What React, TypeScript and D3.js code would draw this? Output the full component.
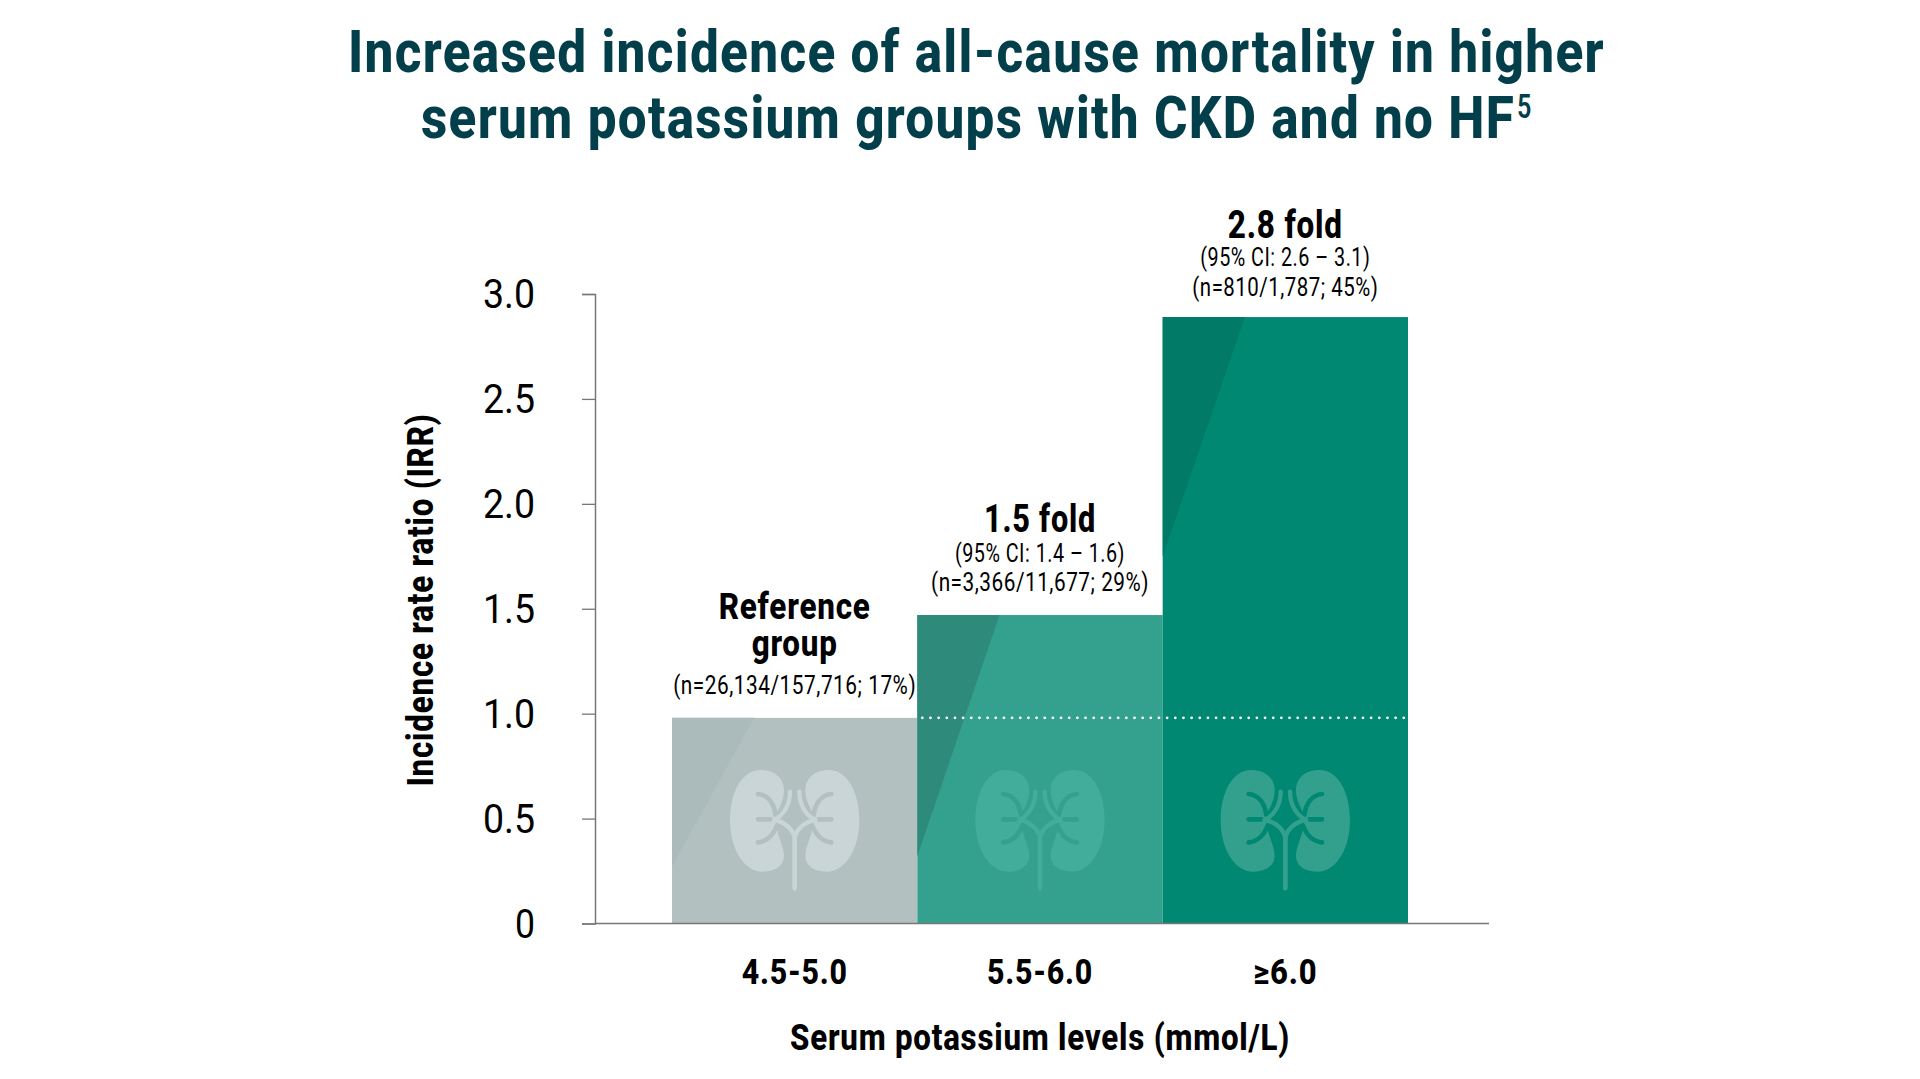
import React, { useEffect, useRef } from "react";
import * as d3 from "d3";

const categories = ["4.5-5.0", "5.5-6.0", "≥6.0"];
const irrValues = [0.98, 1.47, 2.89];
const yTicks = [0, 0.5, 1, 1.5, 2, 2.5, 3];
const barColors = ["#b2c0c0", "#34a08e", "#008872"];
const shadeColors = ["#abbaba", "#2e8b7b", "#017a67"];
const kidneyColors = ["#c9d5d6", "#42ad9b", "#33a08e"];
// how far the darker wedge runs down each bar, in IRR units
const shadeDrop = [0.71, 1.15, 1.14];
const referenceValue = 0.98;

const SANS = "Roboto, sans-serif";
const INK = "#000";
const TITLE_INK = "#023f4a";

const App: React.FC = () => {
  const svgRef = useRef<SVGSVGElement>(null);

  useEffect(() => {
    if (!svgRef.current) return;
    const svg = d3.select(svgRef.current);
    svg.selectAll("*").remove();

    const x = d3.scaleBand<string>().domain(categories).range([672, 1408]);
    const y = d3.scaleLinear().domain([0, 3]).range([923.5, 294]);

    // Roboto Condensed isn't available, so squeeze Roboto to the measured width
    const label = (
      s: string,
      px: number,
      py: number,
      size: number,
      weight: number,
      width: number,
      parent: any = svg,
      fill = INK,
      anchor = "middle"
    ) =>
      parent
        .append("text")
        .attr("x", px)
        .attr("y", py)
        .attr("text-anchor", anchor)
        .attr("font-family", SANS)
        .attr("font-size", size)
        .attr("font-weight", weight)
        .attr("letter-spacing", size * 0.025)
        .attr("fill", fill)
        .attr("textLength", width)
        .attr("lengthAdjust", "spacingAndGlyphs")
        .text(s);

    // title
    label("Increased incidence of all-cause mortality in higher", 976.5, 71.5, 60, 800, 1257, svg, TITLE_INK);
    label("serum potassium groups with CKD and no HF", 421, 138, 60, 800, 1094, svg, TITLE_INK, "start");
    label("5", 1517, 118, 33, 600, 15, svg, TITLE_INK, "start");

    // bars
    const bars = svg.selectAll(".bar")
      .data(categories)
      .enter().append("g")
      .attr("class", "bar");

    bars.append("rect")
      .attr("x", d => x(d)!)
      .attr("y", (_, i) => y(irrValues[i]))
      .attr("width", x.bandwidth())
      .attr("height", (_, i) => y(0) - y(irrValues[i]))
      .attr("fill", (_, i) => barColors[i]);

    bars.append("path")
      .attr("d", (d, i) => {
        const left = x(d)!;
        const top = y(irrValues[i]);
        return `M${left},${top}H${left + x.bandwidth() * 0.335}L${left},${y(irrValues[i] - shadeDrop[i])}Z`;
      })
      .attr("fill", (_, i) => shadeColors[i]);

    // kidney icons
    const icon = bars.append("g")
      .attr("transform", d => `translate(${x(d)! + x.bandwidth() / 2},750) scale(0.3333)`);

    [1, -1].forEach(side => {
      const half = icon.append("g").attr("transform", `scale(${side},1)`);
      half.append("path")
        .attr("d", "M-102,60C-160,60-194,130-194,210C-194,300-150,365-97,365C-50,365-32,340-32,318C-32,290-50,260-52,240L-57,195C-45,170-32,150-32,120C-32,85-60,60-102,60Z")
        .attr("fill", (_, i) => kidneyColors[i]);
      half.append("path")
        .attr("d", "M-110,132C-80,135-62,160-57,195M-110,208L-72,208M-110,277C-80,275-62,250-52,225")
        .attr("fill", "none")
        .attr("stroke", (_, i) => barColors[i])
        .attr("stroke-width", 14)
        .attr("stroke-linecap", "round");
      half.append("path")
        .attr("d", "M0,415L0,270C0,240-30,215-62,210M-14,125C-14,160-30,195-62,210")
        .attr("fill", "none")
        .attr("stroke", (_, i) => kidneyColors[i])
        .attr("stroke-width", 13)
        .attr("stroke-linecap", "round");
    });

    // dotted reference line across the two higher groups
    svg.append("line")
      .attr("x1", x(categories[1])! + 5)
      .attr("x2", x(categories[2])! + x.bandwidth() - 3)
      .attr("y1", y(referenceValue))
      .attr("y2", y(referenceValue))
      .attr("stroke", "#fff")
      .attr("stroke-width", 2.8)
      .attr("stroke-linecap", "round")
      .attr("stroke-dasharray", "0 8.16");

    // axes
    const yAxis = svg.append("g")
      .attr("transform", "translate(595,0)")
      .call(d3.axisLeft(y).tickValues(yTicks).tickSize(13).tickPadding(0)
        .tickFormat(d => (+d === 0 ? "0" : d3.format(".1f")(+d))));
    yAxis.select(".domain").attr("stroke", "#777").attr("stroke-width", 1.5);
    yAxis.selectAll(".tick line").attr("stroke", "#777").attr("stroke-width", 1.3);
    yAxis.selectAll(".tick text")
      .attr("x", -60)
      .attr("y", 1)
      .attr("font-family", SANS)
      .attr("font-size", 40)
      .attr("font-weight", 400)
      .attr("fill", INK)
      .attr("textLength", (d: any) => (+d === 0 ? 20 : 52))
      .attr("lengthAdjust", "spacingAndGlyphs");

    svg.append("line")
      .attr("x1", 595).attr("x2", 1489)
      .attr("y1", y(0)).attr("y2", y(0))
      .attr("stroke", "#777")
      .attr("stroke-width", 1.5);

    const catWidths = [106, 106, 64];
    categories.forEach((c, i) => {
      label(c, x(c)! + x.bandwidth() / 2, 983.5, 35, 800, catWidths[i]);
    });

    label("Serum potassium levels (mmol/L)", 1040, 1050, 36, 800, 500);

    const yTitle = svg.append("g").attr("transform", "translate(433,600) rotate(-90)");
    label("Incidence rate ratio (IRR)", 0, 0, 36, 800, 373, yTitle);

    // annotations above the bars
    const cx = (i: number) => x(categories[i])! + x.bandwidth() / 2;
    label("Reference", cx(0), 619, 36, 800, 152);
    label("group", cx(0), 656, 36, 800, 86);
    label("(n=26,134/157,716; 17%)", cx(0), 694, 26, 400, 243);

    label("1.5 fold", cx(1), 531.5, 38, 800, 112);
    label("(95% CI: 1.4 – 1.6)", cx(1), 561.5, 26, 400, 170);
    label("(n=3,366/11,677; 29%)", cx(1), 591, 26, 400, 218);

    label("2.8 fold", cx(2), 237.5, 38, 800, 115);
    label("(95% CI: 2.6 – 3.1)", cx(2), 266, 26, 400, 170);
    label("(n=810/1,787; 45%)", cx(2), 296, 26, 400, 186);
  }, []);

  return (
    <svg
      ref={svgRef}
      width={1920}
      height={1079}
      style={{ position: "absolute", left: 0, top: 0, background: "#fff" }}
    />
  );
};

export default App;
